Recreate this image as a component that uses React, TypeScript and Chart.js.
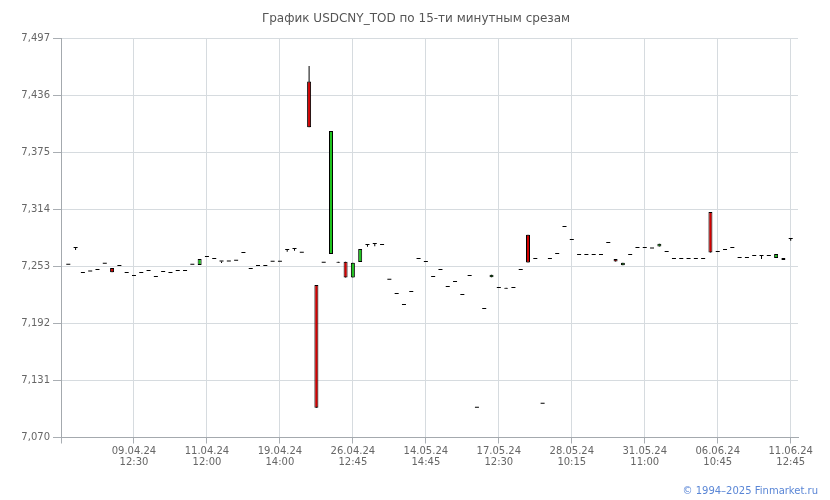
import React, { useEffect, useRef } from "react";
import { Chart, registerables } from "chart.js";

Chart.register(...registerables);

const titleText = "График USDCNY_TOD по 15-ти минутным срезам";
const footerText = "© 1994–2025 Finmarket.ru";

// candle index 0..99 (15-minute slices)
const opens = [
  7.2547, 7.2725, 7.2458, 7.2475, 7.249, 7.2558, 7.2512, 7.2533, 7.2458, 7.2438,
  7.2458, 7.248, 7.2416, 7.247, 7.2458, 7.248, 7.248, 7.2547, 7.2544, 7.2629,
  7.2608, 7.2582, 7.258, 7.259, 7.2672, 7.25, 7.2533, 7.2533, 7.2579, 7.2579,
  7.2704, 7.2714, 7.2675, 7.4504, 7.233, 7.2568, 7.2661, 7.2578, 7.2579, 7.2411,
  7.2575, 7.2757, 7.2768, 7.2757, 7.2387, 7.2234, 7.2117, 7.2256, 7.2608, 7.2576,
  7.2416, 7.249, 7.2309, 7.2362, 7.2223, 7.2426, 7.1017, 7.2074, 7.2413, 7.2298,
  7.23, 7.2298, 7.249, 7.2867, 7.2608, 7.106, 7.2608, 7.2661, 7.295, 7.281,
  7.265, 7.265, 7.265, 7.265, 7.2778, 7.2608, 7.254, 7.265, 7.2725, 7.2725,
  7.2721, 7.2742, 7.2682, 7.2608, 7.2608, 7.2608, 7.2608, 7.2608, 7.311, 7.2682,
  7.2704, 7.2725, 7.2618, 7.2618, 7.264, 7.264, 7.264, 7.2618, 7.2618, 7.2821,
];
const highs = [
  7.2547, 7.2725, 7.2458, 7.2475, 7.249, 7.2558, 7.2512, 7.2533, 7.2458, 7.2438,
  7.2458, 7.248, 7.2416, 7.247, 7.2458, 7.248, 7.248, 7.2547, 7.2608, 7.2629,
  7.2608, 7.2582, 7.258, 7.259, 7.2672, 7.25, 7.2533, 7.2533, 7.2579, 7.2579,
  7.2704, 7.2714, 7.2675, 7.4671, 7.233, 7.2568, 7.3977, 7.2578, 7.2579, 7.2568,
  7.2714, 7.2757, 7.2768, 7.2757, 7.2387, 7.2234, 7.2117, 7.2256, 7.2608, 7.2576,
  7.2416, 7.249, 7.2309, 7.2362, 7.2223, 7.2426, 7.1017, 7.2074, 7.244, 7.2298,
  7.23, 7.2298, 7.249, 7.2867, 7.2608, 7.106, 7.2608, 7.2661, 7.295, 7.281,
  7.265, 7.265, 7.265, 7.265, 7.2778, 7.2608, 7.2568, 7.265, 7.2725, 7.2725,
  7.2721, 7.2771, 7.2682, 7.2608, 7.2608, 7.2608, 7.2608, 7.2608, 7.311, 7.2682,
  7.2704, 7.2725, 7.2618, 7.2618, 7.264, 7.264, 7.264, 7.2661, 7.2618, 7.2821,
];
const lows = [
  7.2547, 7.2705, 7.2458, 7.2475, 7.249, 7.2558, 7.2465, 7.2533, 7.2458, 7.2426,
  7.2458, 7.248, 7.2416, 7.247, 7.2458, 7.248, 7.248, 7.2547, 7.2544, 7.2629,
  7.2608, 7.2565, 7.258, 7.259, 7.2672, 7.25, 7.2533, 7.2533, 7.2579, 7.2579,
  7.2686, 7.2695, 7.2675, 7.4017, 7.1017, 7.2568, 7.2661, 7.2568, 7.2411, 7.2411,
  7.2575, 7.2738, 7.2745, 7.2757, 7.2387, 7.2234, 7.2117, 7.2256, 7.2608, 7.2576,
  7.2416, 7.249, 7.2309, 7.2362, 7.2223, 7.2426, 7.1017, 7.2074, 7.2413, 7.2298,
  7.229, 7.2298, 7.249, 7.2571, 7.2608, 7.106, 7.2608, 7.2661, 7.295, 7.281,
  7.265, 7.265, 7.265, 7.265, 7.2778, 7.2582, 7.254, 7.265, 7.2725, 7.2725,
  7.2721, 7.2742, 7.2682, 7.2608, 7.2608, 7.2608, 7.2608, 7.2608, 7.2678, 7.2682,
  7.2704, 7.2725, 7.2618, 7.2618, 7.264, 7.2608, 7.264, 7.2618, 7.2597, 7.2803,
];
const closes = [
  7.2547, 7.2725, 7.2458, 7.2475, 7.249, 7.2558, 7.2465, 7.2533, 7.2458, 7.2426,
  7.2458, 7.248, 7.2416, 7.247, 7.2458, 7.248, 7.248, 7.2547, 7.2608, 7.2629,
  7.2608, 7.2582, 7.258, 7.259, 7.2672, 7.25, 7.2533, 7.2533, 7.2579, 7.2579,
  7.2704, 7.2714, 7.2675, 7.4017, 7.1017, 7.2568, 7.3977, 7.2568, 7.2411, 7.2568,
  7.2714, 7.2757, 7.2768, 7.2757, 7.2387, 7.2234, 7.2117, 7.2256, 7.2608, 7.2576,
  7.2416, 7.249, 7.2309, 7.2362, 7.2223, 7.2426, 7.1017, 7.2074, 7.244, 7.2298,
  7.229, 7.2298, 7.249, 7.2571, 7.2608, 7.106, 7.2608, 7.2661, 7.295, 7.281,
  7.265, 7.265, 7.265, 7.265, 7.2778, 7.2582, 7.2568, 7.265, 7.2725, 7.2725,
  7.2721, 7.2771, 7.2682, 7.2608, 7.2608, 7.2608, 7.2608, 7.2608, 7.2678, 7.2682,
  7.2704, 7.2725, 7.2618, 7.2618, 7.264, 7.264, 7.264, 7.2661, 7.2597, 7.2821,
];

const xTickPositions = [-1, 9, 19, 29, 39, 49, 59, 69, 79, 89, 99];
const xTickDates = ["", "09.04.24", "11.04.24", "19.04.24", "26.04.24", "14.05.24", "17.05.24", "28.05.24", "31.05.24", "06.06.24", "11.06.24"];
const xTickTimes = ["", "12:30", "12:00", "14:00", "12:45", "14:45", "12:30", "10:15", "11:00", "10:45", "12:45"];
const yTicks = [7.07, 7.131, 7.192, 7.253, 7.314, 7.375, 7.436, 7.497];

const FONT = '"DejaVu Sans", Verdana, sans-serif';
const RED = "#d20000";
const GREEN = "#1ec41e";

const textPlugin = {
  id: "texts",
  afterDraw(chart: any) {
    const ctx = chart.ctx;
    ctx.save();
    ctx.font = `12px ${FONT}`;
    ctx.fillStyle = "#555555";
    ctx.textAlign = "center";
    ctx.textBaseline = "middle";
    ctx.fillText(titleText, 416, 19);
    ctx.font = `10px ${FONT}`;
    ctx.fillStyle = "#5a86d6";
    ctx.textAlign = "right";
    ctx.fillText(footerText, 818, 491);
    ctx.restore();
  },
};

export default function App() {
  const ref = useRef<HTMLCanvasElement>(null);
  useEffect(() => {
    if (!ref.current) return;
    const isDoji = (i: number) => Math.abs(opens[i] - closes[i]) < 1e-9;
    const chart = new Chart(ref.current, {
      type: "bar",
      data: {
        datasets: [
          {
            label: "wick",
            data: opens.map((_, i) => ({ x: i, y: [lows[i], highs[i]] })) as any,
            backgroundColor: "#000000",
            borderWidth: 0,
            grouped: false,
            maxBarThickness: 1,
            order: 2,
          },
          {
            label: "body",
            data: opens.map((o, i) => ({ x: i, y: [o, closes[i]] })) as any,
            backgroundColor: opens.map((o, i) =>
              isDoji(i) ? "#000000" : closes[i] > o ? GREEN : RED
            ),
            borderColor: "#000000",
            borderWidth: opens.map((_, i) => (isDoji(i) ? 0 : 1)),
            borderSkipped: false,
            grouped: false,
            maxBarThickness: 4,
            minBarLength: 1,
            order: 1,
          },
        ],
      },
      options: {
        animation: false,
        responsive: true,
        maintainAspectRatio: false,
        layout: { padding: { top: 38, right: 32, left: 0, bottom: 0 } },
        plugins: {
          legend: { display: false },
          tooltip: { enabled: false },
          title: { display: false },
        },
        scales: {
          x: {
            type: "linear",
            min: -1,
            max: 100,
            offset: false,
            afterBuildTicks: (s: any) => {
              s.ticks = xTickPositions.map((v) => ({ value: v }));
            },
            afterFit: (s: any) => {
              s.height = 62.5;
            },
            grid: {
              offset: false,
              color: "#d6dbdf",
              tickColor: "#a9aeb3",
              tickLength: 6,
            },
            border: { color: "#a4a9ae" },
            ticks: {
              autoSkip: false,
              maxRotation: 0,
              padding: 2,
              color: "#666666",
              font: { family: FONT, size: 10, lineHeight: 1.15 },
              callback: (_v: any, i: number) =>
                xTickDates[i] ? [xTickDates[i], xTickTimes[i]] : "",
            },
          },
          y: {
            min: 7.07,
            max: 7.497,
            afterBuildTicks: (s: any) => {
              s.ticks = yTicks.map((v) => ({ value: v }));
            },
            afterFit: (s: any) => {
              s.width = 61;
            },
            grid: {
              color: "#d6dbdf",
              tickColor: "#a9aeb3",
              tickLength: 8,
            },
            border: { color: "#a4a9ae" },
            ticks: {
              padding: 3,
              color: "#666666",
              font: { family: FONT, size: 10 },
              callback: (v: any) => Number(v).toFixed(3).replace(".", ","),
            },
          },
        },
      },
      plugins: [textPlugin],
    });
    return () => chart.destroy();
  }, []);
  return (
    <div style={{ position: "absolute", left: 0, top: 0, width: 830, height: 500, background: "#ffffff" }}>
      <canvas ref={ref} style={{ display: "block" }} />
    </div>
  );
}
